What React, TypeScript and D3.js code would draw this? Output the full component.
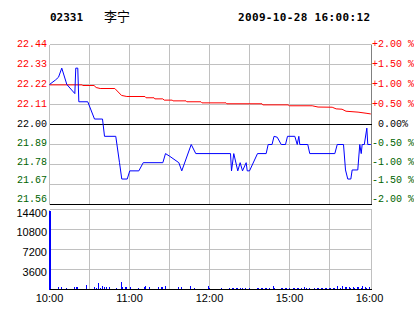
import React from "react";
import * as d3 from "d3";

const stockCode = "02331";
const stockName = "李宁";
const stamp = "2009-10-28 16:00:12";

const prevClose = 22.0;
const priceTicks = [22.44, 22.33, 22.22, 22.11, 22.0, 21.89, 21.78, 21.67, 21.56];
const pctLabels = ["+2.00 %", "+1.50 %", "+1.00 %", "+0.50 %", " 0.00%", "-0.50 %", "-1.00 %", "-1.50 %", "-2.00 %"];
const volTicks = [14400, 10800, 7200, 3600];
const timeTicks = [0, 60, 120, 180, 240];
const timeLabels = ["10:00", "11:00", "12:00", "15:00", "16:00"];
const gridMinutes = [30, 60, 90, 120, 150, 180, 210];

const priceMin = [0, 4.5, 6.75, 9.2, 13, 19, 19.7, 21.2, 22, 28.7, 33.75, 39.75, 41.25, 49.7, 52.5, 54.2, 58.3, 60.2, 67, 70.3, 85, 87, 90.2, 97, 99.2, 106.3, 109.7, 135.75, 136.5, 138.2, 141.2, 143, 144.75, 147.5, 148.3, 150, 156, 162.5, 164, 166.9, 168.4, 170.8, 173.8, 177, 178.5, 184, 185.8, 187, 187.7, 193.7, 195.2, 214, 215.8, 220.5, 222, 223.7, 226, 227, 231.2, 232.7, 233.8, 234.5, 236.1, 238, 238.7, 241];
const priceVal = [22.22, 22.245, 22.26, 22.31, 22.22, 22.17, 22.31, 22.31, 22.125, 22.125, 22.03, 22.03, 21.935, 21.935, 21.79, 21.7, 21.7, 21.745, 21.745, 21.79, 21.79, 21.84, 21.825, 21.79, 21.745, 21.89, 21.84, 21.84, 21.745, 21.84, 21.745, 21.79, 21.745, 21.79, 21.745, 21.745, 21.84, 21.84, 21.89, 21.89, 21.935, 21.93, 21.89, 21.89, 21.935, 21.935, 21.89, 21.935, 21.89, 21.89, 21.84, 21.84, 21.89, 21.89, 21.75, 21.7, 21.7, 21.75, 21.75, 21.89, 21.84, 21.89, 21.89, 21.98, 21.89, 21.89];

const avgMin = [0, 24.4, 25, 33.4, 35, 38, 49, 54, 58, 71.6, 72.4, 78.4, 79, 85, 86, 92, 92.6, 102.4, 103, 113.6, 114.4, 132.4, 133, 159.4, 160, 178.9, 180, 197, 201.4, 212, 215, 219.4, 222.4, 231.4, 237.4, 241];
const avgVal = [22.218, 22.218, 22.2145, 22.2145, 22.2035, 22.198, 22.198, 22.16, 22.154, 22.154, 22.147, 22.147, 22.141, 22.141, 22.134, 22.134, 22.13, 22.13, 22.125, 22.125, 22.119, 22.119, 22.114, 22.114, 22.108, 22.108, 22.103, 22.103, 22.096, 22.095, 22.086, 22.084, 22.073, 22.068, 22.062, 22.058];

const volMin = [0, 7, 9, 13, 19, 20, 21, 28, 34, 35, 37, 38, 40, 41, 43, 45, 50, 54, 55, 57, 58, 61, 67, 71, 72, 75, 82, 84, 85, 87, 97, 99, 106, 109, 119, 120, 129, 135, 137, 138, 140, 141, 143, 145, 147, 150, 156, 157, 159, 160, 162, 163, 165, 168, 169, 174, 175, 177, 178, 180, 183, 184, 186, 187, 189, 191, 193, 195, 199, 201, 202, 204, 205, 207, 208, 210, 211, 213, 214, 216, 218, 220, 222, 223, 225, 226, 228, 229, 231, 232, 234, 235, 237, 238, 240];
const volVal = [14100, 400, 400, 300, 400, 400, 400, 900, 400, 350, 1260, 300, 700, 500, 400, 400, 300, 1440, 400, 400, 400, 400, 300, 400, 600, 400, 500, 400, 400, 600, 400, 400, 720, 300, 720, 250, 200, 300, 300, 300, 300, 300, 300, 350, 300, 300, 300, 300, 300, 300, 300, 300, 250, 720, 350, 300, 300, 300, 300, 300, 300, 300, 300, 350, 300, 400, 300, 250, 300, 300, 300, 300, 300, 300, 300, 300, 300, 300, 300, 550, 300, 700, 400, 500, 400, 350, 450, 350, 400, 450, 350, 600, 400, 350, 500];

const BOX_L = 49.5;
const BOX_R = 371.5;
const P_TOP = 44.5;
const P_BOT = 204.5;
const V_TOP = 209.5;
const V_BOT = 289.5;

export default function App() {
  const x = d3.scaleLinear().domain([0, 240]).range([BOX_L, 369.5]);
  const y = d3.scaleLinear().domain([21.56, 22.44]).range([P_BOT, P_TOP]);
  const yv = d3.scaleLinear().domain([0, 14400]).range([V_BOT, V_TOP]);

  const priceLine = d3.line<number>().x((_, i) => x(priceMin[i])).y((d) => y(d));
  const avgLine = d3.line<number>().x((_, i) => x(avgMin[i])).y((d) => y(d));

  const zeroY = y(prevClose);
  const labelY = (v: number) => {
    const py = y(v);
    return py > zeroY ? zeroY + (py - zeroY) * 0.92 : py - 0.5;
  };
  const colorFor = (v: number) => (v > prevClose + 1e-9 ? "#ff0000" : v < prevClose - 1e-9 ? "#006400" : "#000000");
  const mono = "'Liberation Mono', 'DejaVu Sans Mono', monospace";
  const sans = "'Liberation Sans', Arial, sans-serif";
  const gray = "#c0c0c0";

  return (
    <svg width={414} height={314} style={{ position: "absolute", left: 0, top: 0, display: "block", background: "#fff" }}>
      <rect x={0} y={0} width={414} height={314} fill="#ffffff" />
      {/* header */}
      <text x={50} y={20.5} fontFamily="'DejaVu Sans Mono', monospace" fontWeight="bold" fontSize={11} textLength={33} fill="#000">{stockCode}</text>
      <text x={104} y={20.5} fontFamily="'Noto Sans CJK SC', sans-serif" fontSize={13} fill="#000">{stockName}</text>
      <text x={238} y={20.5} fontFamily="'DejaVu Sans Mono', monospace" fontWeight="bold" fontSize={11} textLength={132} fill="#000">{stamp}</text>

      {/* price panel grid */}
      <g shapeRendering="crispEdges">
        {priceTicks.map((v, i) => {
          const yy = y(v);
          const black = Math.abs(v - prevClose) < 1e-9 || i === priceTicks.length - 1;
          return <line key={"ph" + i} x1={BOX_L} x2={BOX_R} y1={yy} y2={yy} stroke={black ? "#000" : gray} />;
        })}
        {gridMinutes.map((m) => (
          <line key={"pv" + m} x1={x(m)} x2={x(m)} y1={P_TOP} y2={P_BOT} stroke={gray} />
        ))}
        <line x1={BOX_L} x2={BOX_L} y1={P_TOP} y2={P_BOT} stroke={gray} />
        <line x1={BOX_R} x2={BOX_R} y1={P_TOP} y2={P_BOT} stroke="#808080" />
        {/* repaint black lines on top of vertical grid */}
        <line x1={BOX_L} x2={BOX_R} y1={zeroY} y2={zeroY} stroke="#000" />
        <line x1={BOX_L} x2={BOX_R} y1={P_BOT} y2={P_BOT} stroke="#000" />
      </g>

      {/* volume panel grid */}
      <g shapeRendering="crispEdges">
        {volTicks.map((v) => (
          <line key={"vh" + v} x1={BOX_L} x2={BOX_R} y1={yv(v)} y2={yv(v)} stroke={gray} />
        ))}
        {gridMinutes.map((m) => (
          <line key={"vv" + m} x1={x(m)} x2={x(m)} y1={V_TOP} y2={V_BOT} stroke={gray} />
        ))}
        <line x1={BOX_L} x2={BOX_L} y1={V_TOP} y2={V_BOT} stroke={gray} />
        <line x1={BOX_R} x2={BOX_R} y1={V_TOP} y2={V_BOT} stroke={gray} />
      </g>

      {/* volume bars */}
      <g shapeRendering="crispEdges" fill="#0000ff">
        {volVal.map((v, i) => {
          const left = Math.floor(x(volMin[i]));
          const w = i === 0 ? 2 : 1;
          const top = yv(v);
          return <rect key={"vb" + i} x={left} y={top} width={w} height={V_BOT - top} />;
        })}
      </g>
      <line x1={BOX_L} x2={BOX_R} y1={V_BOT} y2={V_BOT} stroke="#000" shapeRendering="crispEdges" />

      {/* lines */}
      <path d={avgLine(avgVal) || ""} fill="none" stroke="#ff0000" strokeWidth={1} />
      <path d={priceLine(priceVal) || ""} fill="none" stroke="#0000ff" strokeWidth={1} />

      {/* left price labels */}
      {priceTicks.map((v) => (
        <text key={"pl" + v} x={47} y={labelY(v) + 3.4} textAnchor="end" fontFamily={mono} fontSize={10} fill={colorFor(v)}>
          {v.toFixed(2)}
        </text>
      ))}
      {/* right percent labels */}
      {priceTicks.map((v, i) => (
        <text key={"pr" + v} x={372} y={labelY(v) + 3.4} fontFamily={mono} fontSize={10} fill={colorFor(v)} style={{ whiteSpace: "pre" }} xmlSpace="preserve">
          {pctLabels[i]}
        </text>
      ))}

      {/* volume labels */}
      {volTicks.map((v, i) => (
        <text key={"vl" + v} x={47} y={yv(v) + (i === 0 ? 7.5 : 6.3)} textAnchor="end" fontFamily={sans} fontSize={11} fill="#000">
          {v}
        </text>
      ))}

      {/* time labels */}
      {timeTicks.map((m, i) => (
        <text key={"tl" + m} x={x(m)} y={302} textAnchor="middle" fontFamily={sans} fontSize={11} fill="#000">
          {timeLabels[i]}
        </text>
      ))}
    </svg>
  );
}
